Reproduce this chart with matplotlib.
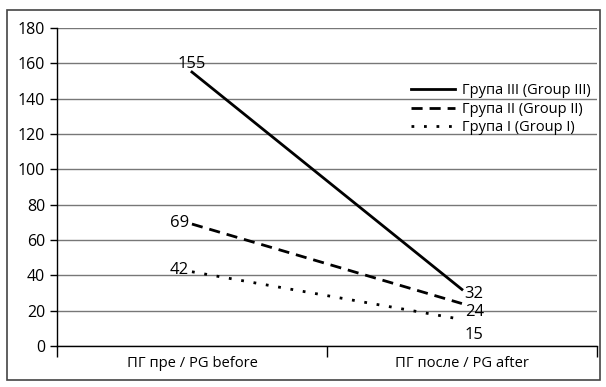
import matplotlib.pyplot as plt
from matplotlib.patches import Rectangle

plt.rcParams['font.family'] = ['Open Sans', 'DejaVu Sans']

categories = ["ПГ пре / PG before", "ПГ после / PG after"]
series_names = ["Група III (Group III)", "Група II (Group II)", "Група I (Group I)"]
group3 = [155, 32]
group2 = [69, 24]
group1 = [42, 15]

fig = plt.figure(figsize=(6.06, 3.87), dpi=100)
ax = fig.add_axes([0.094, 0.106, 0.891, 0.822])

# outer frame around the whole chart
fig.patches.append(Rectangle((7 / 606, 7 / 387), 593 / 606, 370 / 387,
                             transform=fig.transFigure, fill=False,
                             edgecolor="#444444", linewidth=1.2))

x = [0.5, 1.5]
styles = [dict(linestyle="-", linewidth=2),
          dict(linestyle=(0, (4, 2.5)), linewidth=2),
          dict(linestyle=(0, (1, 3.5)), linewidth=2)]
for vals, name, st in zip([group3, group2, group1], series_names, styles):
    ax.plot(x, vals, color="black", label=name, **st)

# value labels
ax.annotate(str(group3[0]), (x[0], group3[0]), xytext=(0, 6), textcoords="offset points",
            ha="center", va="center", fontsize=12)
for vals in [group2, group1]:
    ax.annotate(str(vals[0]), (x[0], vals[0]), xytext=(-2, 1), textcoords="offset points",
                ha="right", va="center", fontsize=12)
for vals, dy in zip([group3, group2, group1], [-3, -6, -11]):
    ax.annotate(str(vals[1]), (x[1], vals[1]), xytext=(2, dy), textcoords="offset points",
                ha="left", va="center", fontsize=12)

ax.set_xlim(0, 2)
ax.set_ylim(0, 180)
ax.set_yticks(range(0, 181, 20))
ax.yaxis.grid(True, color="#777777", linewidth=1)
ax.set_axisbelow(True)
ax.set_xticks([0, 1, 2])
ax.set_xticklabels([])
ax.set_xticks(x, minor=True)
ax.set_xticklabels(categories, minor=True, fontsize=10.6)
ax.tick_params(axis="x", which="minor", length=0, pad=7)
ax.tick_params(axis="x", which="major", length=8, direction="out", width=1)
ax.tick_params(axis="y", length=5, width=1, labelsize=11.5)
for s in ["top", "right"]:
    ax.spines[s].set_visible(False)
ax.spines["left"].set_linewidth(1)
ax.spines["bottom"].set_linewidth(1)

ax.legend(loc="upper right", bbox_to_anchor=(1.0, 0.845), frameon=False, fontsize=10.5,
          handlelength=3.0, handletextpad=0.5, labelspacing=0.25, borderaxespad=0)

fig.savefig("out.png", dpi=100)
